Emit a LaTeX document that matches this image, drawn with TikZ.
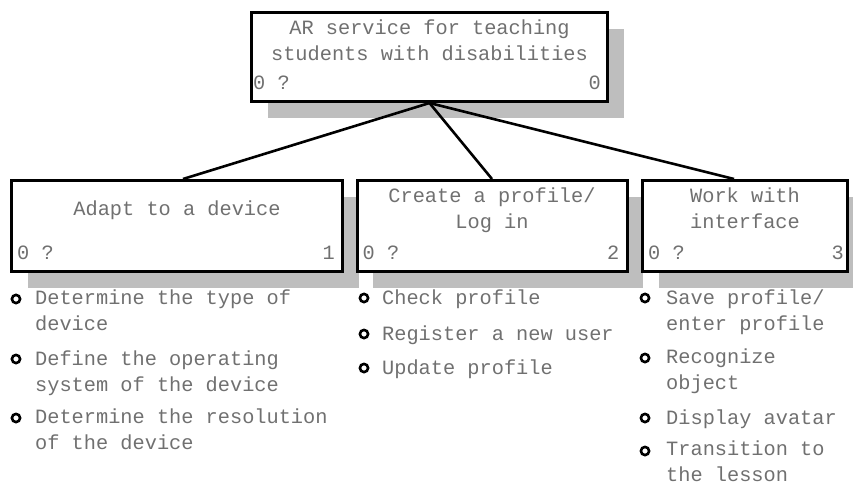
\documentclass[tikz,border=0pt]{standalone}
\usepackage{fontspec}
\setmonofont{Liberation Mono}
\usetikzlibrary{calc,shadows,positioning}

\definecolor{shade}{HTML}{BEBEBE}
\definecolor{ink}{HTML}{707070}

\tikzset{
	box/.style={draw=black, line width=3pt, fill=white,
		drop shadow={shadow xshift=16pt, shadow yshift=-16pt, opacity=1, fill=shade}},
	words/.style={text=ink, inner sep=0pt, align=center,
		font=\ttfamily\fontsize{20.3pt}{26pt}\selectfont},
	num/.style={words, anchor=base},
	item/.style={words, align=left, anchor=base west},
	bullet/.style={circle, draw=black, line width=2.6pt, inner sep=0pt, minimum size=8.2pt},
	link/.style={line width=2.6pt, black}
}

\begin{document}
\begin{tikzpicture}[x=1pt, y=-1pt]
			%%%%% START %%%%%
			\useasboundingbox (0,0) rectangle (853,485);
			
			% boxes
			\node[box, minimum width=356pt, minimum height=89pt] (root) at (429.5,57) {};
			\node[box, minimum width=331pt, minimum height=91pt] (adapt) at (177,226) {};
			\node[box, minimum width=270pt, minimum height=91pt] (profile) at (492,226) {};
			\node[box, minimum width=205pt, minimum height=91pt] (work) at (745,226) {};
			
			% links
			\draw[link] (root.south) -- ([xshift=6pt]adapt.north);
			\draw[link] (root.south) -- (profile.north);
			\draw[link] (root.south) -- ([xshift=-11pt]work.north);
			
			% titles (base = last line)
			\node[words, anchor=base] (roottxt) at (429.5,60) {AR service for teaching\\students with disabilities};
			\node[words, anchor=base] (adapttxt) at (177,215) {Adapt to a device};
			\node[words, anchor=base] (profiletxt) at (492,228) {Create a profile/\\Log in};
			\node[words, anchor=base] (worktxt) at (745,228) {Work with\\interface};
			
			% corner numbers
			\node[num, anchor=base west] (rootq) at ([shift={(3pt,14pt)}]root.south west) {0 ?};
			\node[num, anchor=base east] (rootn) at ([shift={(-8pt,14pt)}]root.south east) {0};
			\node[num, anchor=base west] (adaptq) at ([shift={(7pt,14pt)}]adapt.south west) {0 ?};
			\node[num, anchor=base east] (adaptn) at ([shift={(-9pt,14pt)}]adapt.south east) {1};
			\node[num, anchor=base west] (profileq) at ([shift={(7pt,14pt)}]profile.south west) {0 ?};
			\node[num, anchor=base east] (profilen) at ([shift={(-9pt,14pt)}]profile.south east) {2};
			\node[num, anchor=base west] (workq) at ([shift={(7pt,14pt)}]work.south west) {0 ?};
			\node[num, anchor=base east] (workn) at ([shift={(-5pt,14pt)}]work.south east) {3};
			
			% items under adapt
			\node[item] (a1) at (35,330) {Determine the type of\\device};
			\node[item] (a2) at (35,391) {Define the operating\\system of the device};
			\node[item] (a3) at (35,449) {Determine the resolution\\of the device};
			\node[bullet] at (16,299) {};
			\node[bullet] at (16,359) {};
			\node[bullet] at (16,418) {};
			
			% items under profile
			\node[item] (p1) at (382,304) {Check profile};
			\node[item] (p2) at (382,340) {Register a new user};
			\node[item] (p3) at (382,374) {Update profile};
			\node[bullet] at (364,298) {};
			\node[bullet] at (364,334) {};
			\node[bullet] at (364,368) {};
			
			% items under work
			\node[item] (w1) at (666,330) {Save profile/\\enter profile};
			\node[item] (w2) at (666,389) {Recognize\\object};
			\node[item] (w3) at (666,424) {Display avatar};
			\node[item] (w4) at (666,481) {Transition to\\the lesson};
			\node[bullet] at (645,298) {};
			\node[bullet] at (645,358) {};
			\node[bullet] at (645,418) {};
			\node[bullet] at (645,451) {};
			
			%%%%% END %%%%%
		\end{tikzpicture}
\end{document}
